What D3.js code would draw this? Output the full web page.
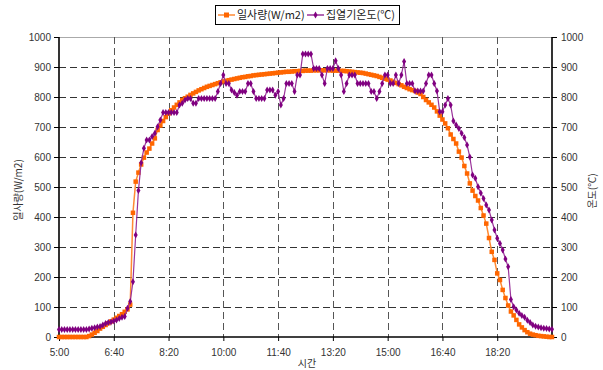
<!DOCTYPE html>
<html>
<head>
<meta charset="utf-8">
<script src="https://cdn.jsdelivr.net/npm/d3@7"></script>
<style>
  body { margin: 0; background: #fff; }
  text { font-family: "Liberation Sans", Arial, sans-serif; }
  .kr { font-family: "Noto Sans CJK KR", "Liberation Sans", sans-serif; }
</style>
</head>
<body>
<div id="chart"></div>
<script>
// 5분 간격 측정값 (5:00 ~ 20:00)
const startMinutes = 5 * 60;
const stepMinutes = 5;

const radiation = [
  0, 0, 0, 0, 0, 0, 0, 0, 0, 0,
  0, 3, 8, 14, 20, 28, 34, 40, 46, 52,
  58, 64, 70, 76, 84, 92, 108, 414, 518, 548,
  575, 598, 615, 628, 645, 662, 690, 705, 720, 733,
  745, 756, 765, 774, 782, 790, 796, 801, 807, 812,
  817, 822, 826, 830, 834, 837, 840, 843, 846, 849,
  852, 854, 856, 858, 860, 862, 864, 866, 867, 869,
  870, 872, 873, 874, 875, 876, 877, 878, 879, 880,
  881, 882, 883, 884, 884, 885, 886, 886, 887, 887,
  888, 888, 888, 889, 889, 889, 889, 889, 889, 889,
  888, 888, 888, 887, 887, 886, 885, 884, 883, 882,
  881, 880, 878, 876, 874, 872, 870, 867, 864, 861,
  858, 855, 851, 847, 843, 839, 834, 830, 826, 823,
  820, 815, 810, 800, 790, 782, 774, 765, 752, 738,
  725, 712, 696, 675, 660, 645, 618, 598, 570, 545,
  512, 488, 470, 455, 430, 405, 378, 330, 284, 257,
  212, 190, 157, 130, 105, 85, 72, 57, 42, 32,
  23, 16, 11, 8, 6, 4, 3, 2, 1, 0,
  0
];

const temperature = [
  25, 25, 25, 25, 25, 25, 25, 25, 25, 25,
  25, 27, 29, 31, 33, 35, 40, 45, 48, 50,
  53, 57, 62, 66, 68, 96, 118, 184, 340, 488,
  581, 629, 657, 657, 668, 679, 701, 723, 748, 748,
  748, 748, 748, 748, 773, 779, 790, 795, 795, 779,
  779, 795, 795, 795, 795, 795, 795, 795, 818, 845,
  873, 845, 845, 823, 815, 806, 818, 818, 818, 845,
  845, 818, 795, 795, 795, 795, 823, 823, 823, 806,
  818, 773, 795, 845, 845, 845, 818, 873, 873, 943,
  943, 943, 943, 895, 895, 895, 873, 845, 895, 895,
  895, 921, 895, 873, 818, 845, 873, 873, 873, 845,
  845, 845, 845, 845, 818, 818, 795, 818, 845, 873,
  873, 845, 845, 873, 845, 873, 918, 845, 845, 845,
  820, 820, 820, 820, 845, 873, 873, 845, 820, 751,
  751, 773, 795, 773, 720, 707, 695, 679, 665, 640,
  600, 540, 529, 501, 480, 462, 440, 423, 390, 357,
  329, 312, 290, 260, 234, 125, 101, 90, 79, 72,
  66, 56, 48, 40, 36, 33, 31, 29, 28, 27,
  26
];

const xTickLabels = ["5:00", "6:40", "8:20", "10:00", "11:40", "13:20", "15:00", "16:40", "18:20"];
const yTicks = [0, 100, 200, 300, 400, 500, 600, 700, 800, 900, 1000];

const fmt = m => `${Math.floor(m / 60)}:${String(m % 60).padStart(2, "0")}`;
const times = radiation.map((_, i) => fmt(startMinutes + i * stepMinutes));

const W = 603, H = 370;
const plotL = 59, plotR = 552, plotT = 37, plotB = 337;

const svg = d3.select("#chart").append("svg")
  .attr("width", W).attr("height", H);

const x = d3.scalePoint().domain(times).range([plotL, plotR]);
const y = d3.scaleLinear().domain([0, 1000]).range([plotB, plotT]);
const y2 = d3.scaleLinear().domain([0, 1000]).range([plotB, plotT]);

// plot border top
svg.append("line")
  .attr("x1", plotL).attr("x2", plotR).attr("y1", plotT + 0.5).attr("y2", plotT + 0.5)
  .attr("stroke", "#aaa");

// grid
svg.append("g").selectAll("line")
  .data(yTicks.filter(d => d > 0 && d < 1000))
  .join("line")
  .attr("x1", plotL).attr("x2", plotR)
  .attr("y1", d => Math.round(y(d)) + 0.5).attr("y2", d => Math.round(y(d)) + 0.5)
  .attr("stroke", "#333").attr("stroke-dasharray", "7,4");

svg.append("g").selectAll("line")
  .data(xTickLabels.slice(1))
  .join("line")
  .attr("x1", d => Math.round(x(d)) + 0.5).attr("x2", d => Math.round(x(d)) + 0.5)
  .attr("y1", plotT).attr("y2", plotB)
  .attr("stroke", "#555").attr("stroke-dasharray", "7,4");

// axes
const xAxis = svg.append("g")
  .attr("transform", `translate(0,${plotB})`)
  .call(d3.axisBottom(x).tickValues(xTickLabels).tickSize(4).tickPadding(8));
const yAxis = svg.append("g")
  .attr("transform", `translate(${plotL},0)`)
  .call(d3.axisLeft(y).tickValues(yTicks).tickFormat(d3.format("d")).tickSize(5).tickPadding(3));
const yAxis2 = svg.append("g")
  .attr("transform", `translate(${plotR},0)`)
  .call(d3.axisRight(y2).tickValues(yTicks).tickFormat(d3.format("d")).tickSize(5).tickPadding(4));

[xAxis, yAxis, yAxis2].forEach(g => {
  g.select(".domain").attr("stroke", "#000").attr("stroke-width", 1.6);
  g.selectAll(".tick line").attr("stroke", "#000");
  g.selectAll(".tick text").attr("fill", "#333").style("font-size", "10px");
});
xAxis.select(".domain").attr("d", `M${plotL},0H${plotR}`);
yAxis.select(".domain").attr("d", `M0,${plotT}V${plotB}`);
yAxis2.select(".domain").attr("d", `M0,${plotT}V${plotB}`);

// series
const orange = "#ff6600", purple = "#800080";

const line = vals => d3.line()
  .x((d, i) => x(times[i]))
  .y(d => y(d))(vals);

svg.append("path")
  .attr("d", line(radiation))
  .attr("fill", "none").attr("stroke", "#ff8a33").attr("stroke-width", 1.5);
svg.append("g").selectAll("rect")
  .data(radiation)
  .join("rect")
  .attr("x", (d, i) => x(times[i]) - 2.25)
  .attr("y", d => y(d) - 2.25)
  .attr("width", 4.5).attr("height", 4.5)
  .attr("fill", orange);

svg.append("path")
  .attr("d", line(temperature))
  .attr("fill", "none").attr("stroke", "#9a339a").attr("stroke-width", 1.2);
const diamond = d3.symbol(d3.symbolDiamond, 14);
svg.append("g").selectAll("path")
  .data(temperature)
  .join("path")
  .attr("transform", (d, i) => `translate(${x(times[i])},${y2(d)})`)
  .attr("d", diamond)
  .attr("fill", purple);

// axis titles
svg.append("text").attr("class", "kr")
  .attr("transform", `translate(22,190) rotate(-90)`)
  .attr("text-anchor", "middle").attr("fill", "#333")
  .style("font-size", "10px").text("일사량(W/m2)");
svg.append("text").attr("class", "kr")
  .attr("transform", `translate(596,191) rotate(-90)`)
  .attr("text-anchor", "middle").attr("fill", "#333")
  .style("font-size", "10px").text("온도(℃)");
svg.append("text").attr("class", "kr")
  .attr("x", 307).attr("y", 367)
  .attr("text-anchor", "middle").attr("fill", "#333")
  .style("font-size", "10px").text("시간");

// legend
const lg = svg.append("g");
lg.append("rect")
  .attr("x", 215.5).attr("y", 5.5).attr("width", 184).attr("height", 19)
  .attr("fill", "#fff").attr("stroke", "#000");
lg.append("line").attr("x1", 218).attr("x2", 235).attr("y1", 15).attr("y2", 15)
  .attr("stroke", "#ff8a33").attr("stroke-width", 1.5);
lg.append("rect").attr("x", 224).attr("y", 12.5).attr("width", 5).attr("height", 5).attr("fill", orange);
lg.append("text").attr("class", "kr").attr("x", 237).attr("y", 19)
  .attr("fill", "#222").style("font-size", "11px").text("일사량(W/m2)");
lg.append("line").attr("x1", 307).attr("x2", 324).attr("y1", 15).attr("y2", 15)
  .attr("stroke", "#9a339a").attr("stroke-width", 1.5);
lg.append("path").attr("transform", "translate(315.5,15)").attr("d", diamond).attr("fill", purple);
lg.append("text").attr("class", "kr").attr("x", 326).attr("y", 19)
  .attr("fill", "#222").style("font-size", "11px").text("집열기온도(℃)");
</script>
</body>
</html>
